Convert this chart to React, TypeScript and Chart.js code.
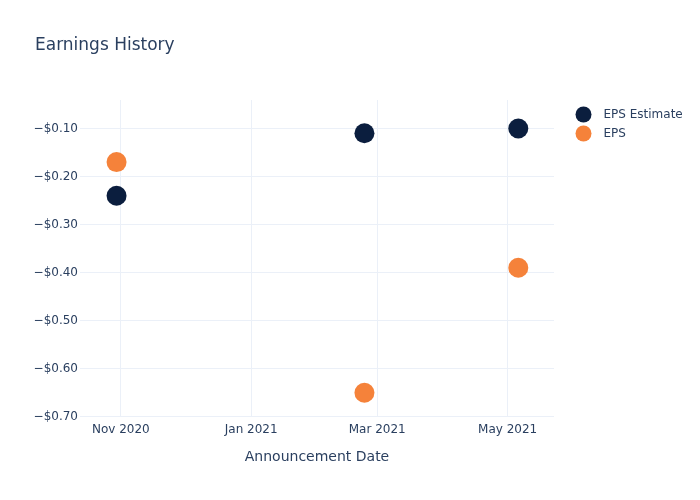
import React, { useEffect, useRef } from "react";
import { Chart, registerables } from "chart.js";

Chart.register(...registerables);

const quarterDates = ["2020-10-30", "2021-02-23", "2021-05-06"];
const epsEstimate = [-0.24, -0.11, -0.1];
const epsActual = [-0.17, -0.65, -0.39];
const seriesNames = ["EPS Estimate", "EPS"];
const seriesColors = ["#0b1e3e", "#f5823a"];
const xTickDates = ["2020-11-01", "2021-01-01", "2021-03-01", "2021-05-01"];
const xTickLabels = ["Nov 2020", "Jan 2021", "Mar 2021", "May 2021"];
const yTickValues = [-0.1, -0.2, -0.3, -0.4, -0.5, -0.6, -0.7];
const xRange = ["2020-10-12T21:30:00Z", "2021-05-22T17:00:00Z"];
const yRange = [-0.7005, -0.0408];
const titleText = "Earnings History";
const xAxisTitle = "Announcement Date";

const FONT = "'DejaVu Sans', sans-serif";
const TEXT = "#2a3f5f";
const GRID = "#ebf0f8";

const ts = (s: string) => Date.parse(s);

export default function App() {
  const ref = useRef<HTMLCanvasElement | null>(null);

  useEffect(() => {
    document.body.style.margin = "0";
    const canvas = ref.current;
    if (!canvas) return;

    const decor = {
      id: "decor",
      afterDraw(chart: any) {
        const ctx = chart.ctx;
        ctx.save();
        ctx.fillStyle = TEXT;
        ctx.font = `17px ${FONT}`;
        ctx.textAlign = "left";
        ctx.textBaseline = "alphabetic";
        ctx.fillText(titleText, 35, 50);
        ctx.font = `12px ${FONT}`;
        ctx.textBaseline = "middle";
        seriesNames.forEach((name, i) => {
          const y = 114.5 + i * 19;
          ctx.beginPath();
          ctx.arc(583.5, y, 8, 0, Math.PI * 2);
          ctx.fillStyle = seriesColors[i];
          ctx.fill();
          ctx.fillStyle = TEXT;
          ctx.fillText(name, 603.5, y);
        });
        ctx.restore();
      },
    };

    const chart = new Chart(canvas, {
      type: "scatter",
      data: {
        datasets: [
          {
            label: seriesNames[0],
            data: quarterDates.map((d, i) => ({ x: ts(d), y: epsEstimate[i] })),
            backgroundColor: seriesColors[0],
            borderWidth: 0,
            pointRadius: 10,
            pointHoverRadius: 10,
          },
          {
            label: seriesNames[1],
            data: quarterDates.map((d, i) => ({ x: ts(d), y: epsActual[i] })),
            backgroundColor: seriesColors[1],
            borderWidth: 0,
            pointRadius: 10,
            pointHoverRadius: 10,
          },
        ],
      },
      options: {
        responsive: false,
        animation: false,
        layout: { padding: { top: 100, right: 146, left: 0, bottom: 0 } },
        plugins: {
          legend: { display: false },
          title: { display: false },
          tooltip: { enabled: false },
        },
        scales: {
          x: {
            type: "linear",
            min: ts(xRange[0]),
            max: ts(xRange[1]),
            afterBuildTicks: (scale: any) => {
              scale.ticks = xTickDates.map((d) => ({ value: ts(d) }));
            },
            afterFit: (scale: any) => {
              scale.height = 83;
            },
            ticks: {
              color: TEXT,
              font: { family: FONT, size: 12 },
              padding: 6,
              maxRotation: 0,
              autoSkip: false,
              callback: (v: any) => {
                const idx = xTickDates.findIndex((d) => ts(d) === v);
                return idx >= 0 ? xTickLabels[idx] : "";
              },
            },
            grid: { color: GRID, lineWidth: 1, drawTicks: false },
            border: { display: false },
            title: {
              display: true,
              text: xAxisTitle,
              color: TEXT,
              font: { family: FONT, size: 14 },
              padding: { top: 0, bottom: 34 },
            },
          },
          y: {
            type: "linear",
            min: yRange[0],
            max: yRange[1],
            afterBuildTicks: (scale: any) => {
              scale.ticks = yTickValues.map((v) => ({ value: v }));
            },
            afterFit: (scale: any) => {
              scale.width = 80;
            },
            ticks: {
              color: TEXT,
              font: { family: FONT, size: 12 },
              padding: 2,
              autoSkip: false,
              callback: (v: any) => "\u2212$" + Math.abs(Number(v)).toFixed(2),
            },
            grid: { color: GRID, lineWidth: 1, drawTicks: false },
            border: { display: false },
          },
        },
      },
      plugins: [decor],
    } as any);

    return () => chart.destroy();
  }, []);

  return (
    <div style={{ width: 700, height: 500, background: "#fff" }}>
      <canvas ref={ref} width={700} height={500} style={{ display: "block" }} />
    </div>
  );
}
